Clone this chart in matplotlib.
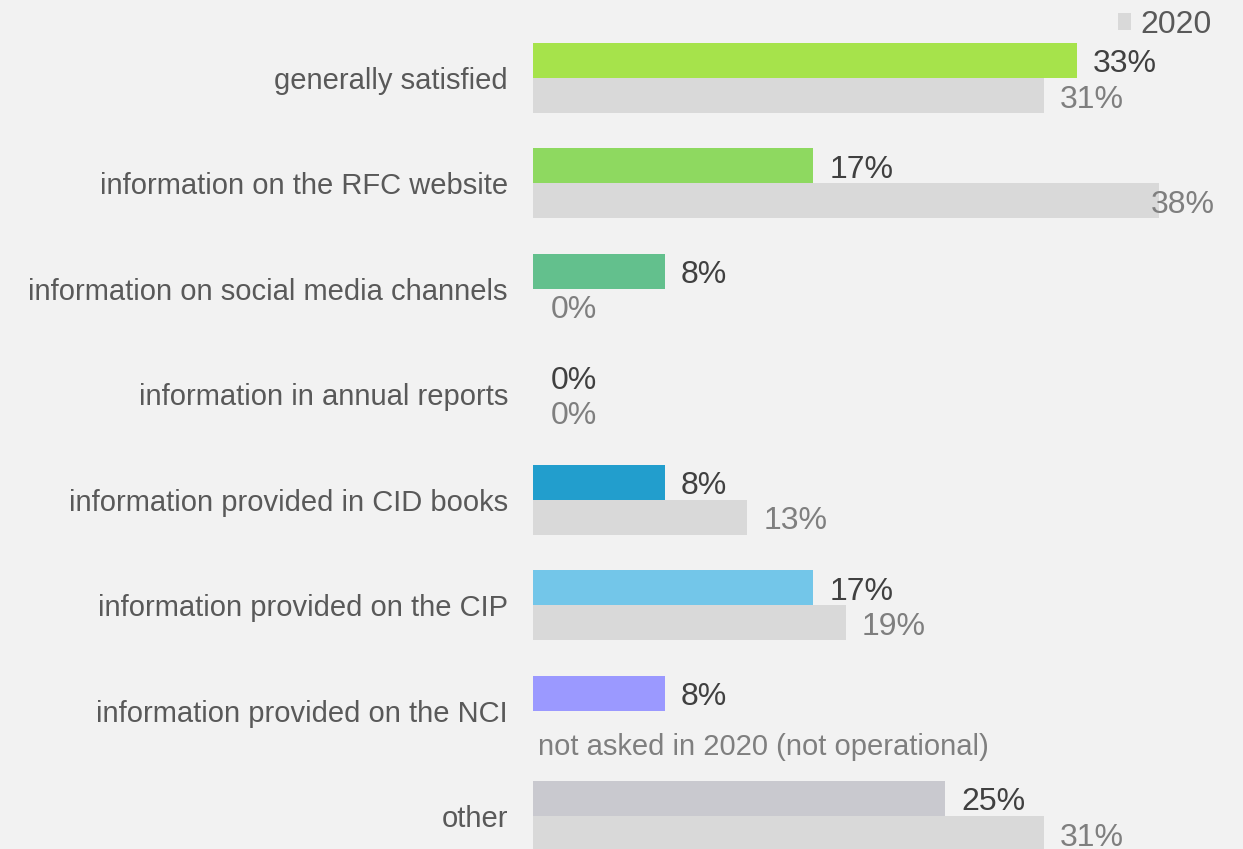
import matplotlib
matplotlib.use("Agg")
import matplotlib.pyplot as plt
import numpy as np

plt.rcParams["font.family"] = ["Liberation Sans", "DejaVu Sans"]

categories = [
    "generally satisfied",
    "information on the RFC website",
    "information on social media channels",
    "information in annual reports",
    "information provided in CID books",
    "information provided on the CIP",
    "information provided on the NCI",
    "other",
]
share_2021 = [33, 17, 8, 0, 8, 17, 8, 25]
share_2020 = [31, 38, 0, 0, 13, 19, None, 31]  # NCI not asked in 2020
colors_2021 = ["#a6e34b", "#8ed960", "#63c08d", "#63c08d",
               "#229ecd", "#73c6e9", "#9b99ff", "#c9c9cf"]
color_2020 = "#d9d9d9"
not_asked_note = "not asked in 2020 (not operational)"

bg = "#f2f2f2"
fig = plt.figure(figsize=(12.43, 8.49), dpi=100, facecolor=bg)
ax = fig.add_axes([533 / 1243, 0, 708.6 / 1243, 1])
ax.set_facecolor(bg)

y = np.arange(len(categories))
h = 0.332

ax.barh(y - h / 2, share_2021, height=h, color=colors_2021, label="2021")
vals_2020 = [v if v is not None else 0 for v in share_2020]
bars_2020 = ax.barh(y + h / 2, vals_2020, height=h, color=color_2020, label="2020")

# value labels; long bars get their label pulled back inside the right edge
xmax_label = 36.5
for i, v in enumerate(share_2021):
    ax.annotate(f"{v}%", (min(v, xmax_label), i - h / 2), xytext=(16 if v else 18, -4),
                textcoords="offset pixels", va="center", ha="left",
                fontsize=23, color="#404040")
for i, v in enumerate(share_2020):
    if v is None:
        ax.annotate(not_asked_note, (0, i + h / 2 + 0.16), xytext=(5, -2),
                    textcoords="offset pixels", va="center", ha="left",
                    fontsize=21, color="#7f7f7f")
        continue
    ax.annotate(f"{v}%", (min(v, xmax_label), i + h / 2), xytext=(16 if v else 18, -4),
                textcoords="offset pixels", va="center", ha="left",
                fontsize=23, color="#7f7f7f")

ax.set_yticks(y)
ax.set_yticklabels(categories, fontsize=21, color="#595959")
ax.tick_params(axis="y", length=0, pad=18)
ax.set_xticks([])
ax.set_xlim(0, 43)
ax.set_ylim(7 + 33 / 105.43, -78 / 105.43)
for s in ax.spines.values():
    s.set_visible(False)

fig.legend(handles=[bars_2020], labels=["2020"], loc="upper right",
           bbox_to_anchor=(1212 / 1243, 1 - 10 / 849), frameon=False,
           fontsize=23, labelcolor="#595959", handlelength=0.42,
           handleheight=0.42, handletextpad=0.3, borderpad=0, borderaxespad=0)

fig.savefig("out.png", dpi=100, facecolor=bg)
